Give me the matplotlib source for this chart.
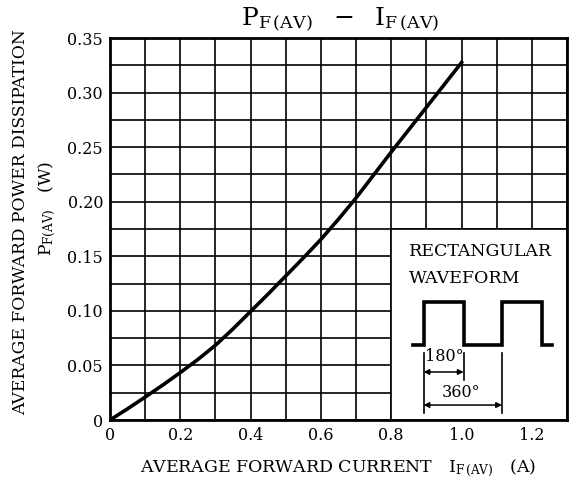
import matplotlib
matplotlib.use("Agg")
import matplotlib.pyplot as plt
from matplotlib.patches import Rectangle
from matplotlib.ticker import MultipleLocator

plt.rcParams['font.family'] = ['DejaVu Serif']
plt.rcParams['mathtext.fontset'] = 'dejavuserif'

# curve
current = [0, 0.05, 0.1, 0.15, 0.2, 0.25, 0.3, 0.35, 0.4, 0.45, 0.5,
           0.55, 0.6, 0.65, 0.7, 0.75, 0.8, 0.85, 0.9, 0.95, 1.0]
power = [0, 0.0103, 0.021, 0.032, 0.0435, 0.0555, 0.0685, 0.0835, 0.0995, 0.1155, 0.132,
         0.1485, 0.1655, 0.184, 0.2035, 0.2245, 0.2455, 0.266, 0.2865, 0.307, 0.3275]

x_ticks = [0, 0.2, 0.4, 0.6, 0.8, 1.0, 1.2]
x_labels = ["0", "0.2", "0.4", "0.6", "0.8", "1.0", "1.2"]
y_ticks = [0, 0.05, 0.10, 0.15, 0.20, 0.25, 0.30, 0.35]
y_labels = ["0", "0.05", "0.10", "0.15", "0.20", "0.25", "0.30", "0.35"]

fig = plt.figure(figsize=(5.73, 4.86), dpi=100)
ax = fig.add_axes([0.192, 0.1358, 0.7975, 0.786])

ax.set_xlim(0, 1.3)
ax.set_ylim(0, 0.35)
ax.set_xticks(x_ticks)
ax.set_xticklabels(x_labels)
ax.set_yticks(y_ticks)
ax.set_yticklabels(y_labels)
ax.xaxis.set_minor_locator(MultipleLocator(0.1))
ax.yaxis.set_minor_locator(MultipleLocator(0.025))
ax.tick_params(which='both', length=0, labelsize=11.5)
ax.tick_params(axis='y', pad=5)
ax.tick_params(axis='x', pad=5)
ax.set_axisbelow(True)
ax.grid(which='both', color='black', linewidth=1.2)
for s in ax.spines.values():
    s.set_linewidth(2.0)

# inset box covering the grid
ax.add_patch(Rectangle((0.8, 0), 0.5, 0.175, facecolor='white',
                       edgecolor='black', linewidth=1.2, zorder=1.5))

ax.plot(current, power, color='black', linewidth=2.6, zorder=3,
        solid_joinstyle='round')

# waveform sketch
wx = [0.861, 0.892, 0.892, 1.006, 1.006, 1.115, 1.115, 1.229, 1.229, 1.257]
wy = [0.0687, 0.0687, 0.108, 0.108, 0.0687, 0.0687, 0.108, 0.108, 0.0687, 0.0687]
ax.plot(wx, wy, color='black', linewidth=2.6, zorder=3, solid_joinstyle='miter')
ax.plot([0.892, 0.892], [0.0614, 0.0064], color='black', lw=1.2, zorder=3)
ax.plot([1.006, 1.006], [0.0614, 0.0367], color='black', lw=1.2, zorder=3)
ax.plot([1.115, 1.115], [0.0614, 0.0064], color='black', lw=1.2, zorder=3)
arrow = dict(arrowstyle='<|-|>', color='black', lw=1.1, shrinkA=0, shrinkB=0,
             mutation_scale=8)
ax.annotate('', xy=(0.892, 0.044), xytext=(1.006, 0.044), arrowprops=arrow, zorder=3)
ax.annotate('', xy=(0.892, 0.0137), xytext=(1.115, 0.0137), arrowprops=arrow, zorder=3)
ax.text(0.95, 0.058, "180°", ha='center', va='center', fontsize=11.5, zorder=4)
ax.text(1.0, 0.025, "360°", ha='center', va='center', fontsize=11.5, zorder=4)
ax.text(0.85, 0.154, "RECTANGULAR", ha='left', va='center', fontsize=12.5, zorder=4)
ax.text(0.85, 0.130, "WAVEFORM", ha='left', va='center', fontsize=12.5, zorder=4)

fig.text(0.593, 0.96, r"$\mathrm{P_{F\,(AV)}}\ \ -\ \ \mathrm{I_{F\,(AV)}}$",
         ha='center', va='center', fontsize=18)
fig.text(0.59, 0.037,
         r"AVERAGE FORWARD CURRENT   $\mathrm{I_{F\,(AV)}}$   (A)",
         ha='center', va='center', fontsize=12.5)
fig.text(0.036, 0.543, "AVERAGE FORWARD POWER DISSIPATION",
         rotation=90, ha='center', va='center', fontsize=12.3)
fig.text(0.083, 0.572, r"$\mathrm{P_{F(AV)}}$   (W)",
         rotation=90, ha='center', va='center', fontsize=12.3)

fig.savefig("out.png", dpi=100)
